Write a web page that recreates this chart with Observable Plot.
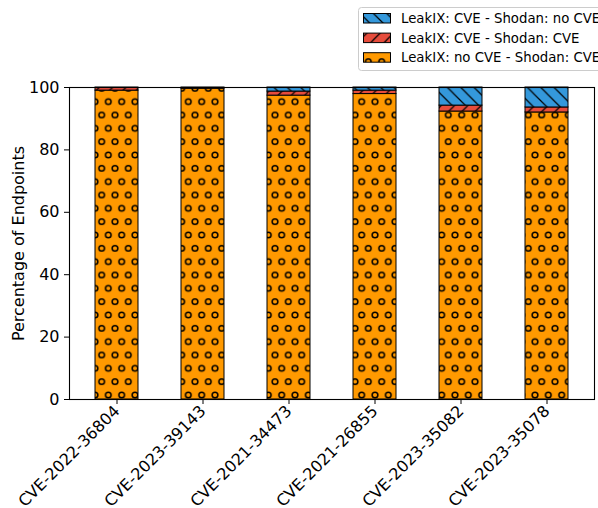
<!DOCTYPE html>
<html><head><meta charset="utf-8">
<script src="https://cdn.jsdelivr.net/npm/d3@7"></script>
<script src="https://cdn.jsdelivr.net/npm/@observablehq/plot@0.6"></script>
<style>
body{margin:0;background:#fff;font-family:"DejaVu Sans",sans-serif;}
#wrap{width:598px;height:508px;overflow:hidden;position:relative;background:#fff;}
#wrap svg{display:block;}
.chart text{font-size:16px !important;font-family:"DejaVu Sans",sans-serif !important;fill:black;}
</style></head><body>
<svg width="0" height="0" style="position:absolute" id="defs-holder"></svg>
<div id="wrap"></div>
<script>
// ---- data ----
const cves = ["CVE-2022-36804","CVE-2023-39143","CVE-2021-34473","CVE-2021-26855","CVE-2023-35082","CVE-2023-35078"];
const seriesNames = ["LeakIX: no CVE - Shodan: CVE","LeakIX: CVE - Shodan: CVE","LeakIX: CVE - Shodan: no CVE"];
const noCveShodanCve = [99.0, 99.6, 97.4, 97.9, 92.3, 92.0];
const cveShodanCve   = [1.0, 0.4, 1.3, 1.1, 1.9, 1.6];
const cveShodanNoCve = [0.0, 0.0, 1.3, 1.0, 5.8, 6.4];
const seriesColors = ["#ff9900","#e74c3c","#3498db"];
const patternIds = ["hatch-o","hatch-fwd","hatch-back"];
const yTicks = [0,20,40,60,80,100];
const legendOrder = [2,1,0];

const seriesValues = [noCveShodanCve, cveShodanCve, cveShodanNoCve];
const rows = [];
cves.forEach((c,i)=>{
  seriesValues.forEach((arr,j)=>rows.push({cve:c, series:seriesNames[j], value:arr[i]}));
});

// ---- hatch patterns ----
const U = 80/6;
const hw = 1.2;
const cr = 2.8, cw = 1.5;
const defs = `
<defs>
<pattern id="hatch-o" patternUnits="userSpaceOnUse" x="1.67" y="21.67" width="${U}" height="${2*U}">
  <rect width="${U}" height="${2*U}" fill="${seriesColors[0]}"/>
  <g fill="none" stroke="black" stroke-width="${cw}">
    <circle cx="0" cy="0" r="${cr}"/><circle cx="${U}" cy="0" r="${cr}"/>
    <circle cx="0" cy="${2*U}" r="${cr}"/><circle cx="${U}" cy="${2*U}" r="${cr}"/>
    <circle cx="${U/2}" cy="${U}" r="${cr}"/>
  </g>
</pattern>
<pattern id="hatch-fwd" patternUnits="userSpaceOnUse" width="${U}" height="${U}">
  <rect width="${U}" height="${U}" fill="${seriesColors[1]}"/>
  <path d="M0,${U} L${U},0 M${-U/2},${U/2} L${U/2},${-U/2} M${U/2},${1.5*U} L${1.5*U},${U/2}" stroke="black" stroke-width="${hw}"/>
</pattern>
<pattern id="hatch-back" patternUnits="userSpaceOnUse" width="${U}" height="${U}">
  <rect width="${U}" height="${U}" fill="${seriesColors[2]}"/>
  <path d="M0,0 L${U},${U} M${-U/2},${U/2} L${U/2},${1.5*U} M${U/2},${-U/2} L${1.5*U},${U/2}" stroke="black" stroke-width="${hw}"/>
</pattern>
</defs>`;
document.getElementById("defs-holder").innerHTML = defs;

// ---- legend ----
const wrap = d3.select("#wrap");
const leg = wrap.append("svg").attr("width",598).attr("height",80)
  .style("font-family","'DejaVu Sans', sans-serif");
leg.append("rect").attr("x",358.5).attr("y",7.5).attr("width",260).attr("height",63)
  .attr("rx",3).attr("fill","white").attr("stroke","#cccccc").attr("stroke-width",1);
legendOrder.forEach((si,k)=>{
  const y0 = 13 + k*19.6;
  leg.append("rect").attr("x",363.5).attr("y",y0+0.5).attr("width",27).attr("height",9.5)
    .attr("fill",`url(#${patternIds[si]})`).attr("stroke","black").attr("stroke-width",1);
  leg.append("text").attr("x",401).attr("y",y0+10).attr("font-size","13.3px").attr("fill","black")
    .text(seriesNames[si]);
});

// ---- chart ----
const chart = Plot.plot({
  className: "chart",
  width: 598, height: 428,
  marginTop: 7, marginBottom: 109, marginLeft: 69, marginRight: 4,
  style: {fontFamily: "'DejaVu Sans', sans-serif", fontSize: "16px", color: "black", background: "white"},
  x: {domain: cves, paddingInner: 0.5, paddingOuter: 0.275, align: 0.5},
  y: {domain: [0,100]},
  color: {domain: seriesNames, range: patternIds.map(id=>`url(#${id})`)},
  marks: [
    Plot.barY(rows, {x:"cve", y:"value", fill:"series", order: seriesNames, stroke:"black", strokeWidth:1}),
    Plot.frame({stroke:"black", strokeWidth:1.1}),
    Plot.axisX({tickSize:5, tickRotate:-45, tickPadding:4, label:null}),
    Plot.axisY({ticks: yTicks, tickSize:5, tickPadding:5, label:"Percentage of Endpoints", labelAnchor:"center", labelArrow:"none", labelOffset:57})
  ]
});
document.getElementById("wrap").appendChild(chart);
</script>
</body></html>
